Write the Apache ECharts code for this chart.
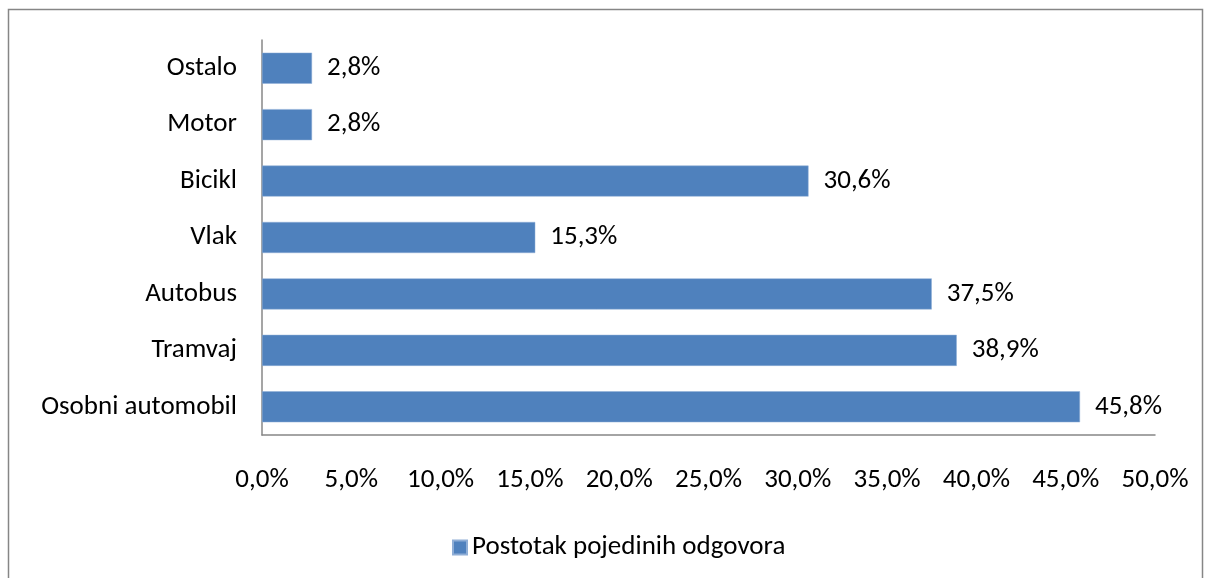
<!doctype html>
<html>
<head>
<meta charset="UTF-8">
<title>Postotak pojedinih odgovora</title>
<script src="https://cdn.jsdelivr.net/npm/echarts@6/dist/echarts.min.js"></script>
<style>
  html, body { margin: 0; padding: 0; background: #fff; }
  #main { width: 1205px; height: 578px; }
</style>
</head>
<body>
<div id="main"></div>
<script>
// categories from bottom to top (as in the y axis)
var categories = ['Osobni automobil', 'Tramvaj', 'Autobus', 'Vlak', 'Bicikl', 'Motor', 'Ostalo'];
var values = [45.8, 38.9, 37.5, 15.3, 30.6, 2.8, 2.8];
var seriesName = 'Postotak pojedinih odgovora';

var font = 'Calibri, Carlito, "Open Sans", "Noto Sans", sans-serif';
var fs = 27;
var myChart = echarts.init(document.getElementById('main'));

function pct(v) {
    return v.toFixed(1).replace('.', ',') + '%';
}

var option = {
    animation: false,
    backgroundColor: '#fff',
    textStyle: { fontFamily: font },
    graphic: [{
        type: 'rect',
        shape: { x: 8.5, y: 9.5, width: 1194, height: 600 },
        style: { fill: 'none', stroke: '#868686', lineWidth: 1.5 },
        silent: true
    }],
    grid: { left: 262, right: 50, top: 40, bottom: 143 },
    legend: {
        bottom: 12,
        left: 447,
        itemWidth: 14,
        itemHeight: 14,
        itemGap: 7,
        icon: 'rect',
        textStyle: { fontSize: fs, color: '#000', fontFamily: font },
        data: [seriesName]
    },
    xAxis: {
        type: 'value',
        min: 0,
        max: 50,
        interval: 5,
        axisLine: { show: true, lineStyle: { color: '#878787', width: 1.5 } },
        axisTick: { show: false },
        splitLine: { show: false },
        axisLabel: {
            margin: 32,
            fontSize: fs,
            color: '#000',
            fontFamily: font,
            formatter: function (v) { return pct(v); }
        }
    },
    yAxis: {
        type: 'category',
        data: categories,
        axisLine: { show: true, lineStyle: { color: '#878787', width: 1.5 } },
        axisTick: { show: false },
        axisLabel: { margin: 25, fontSize: fs, color: '#000', fontFamily: font }
    },
    series: [{
        name: seriesName,
        type: 'bar',
        data: values,
        barWidth: '55%',
        itemStyle: { color: '#4F81BD', borderColor: '#8FAED6', borderWidth: 0.5 },
        label: {
            show: true,
            position: 'right',
            distance: 15,
            fontSize: fs,
            color: '#000',
            fontFamily: font,
            formatter: function (p) { return pct(p.value); }
        }
    }]
};

myChart.setOption(option);
</script>
</body>
</html>
